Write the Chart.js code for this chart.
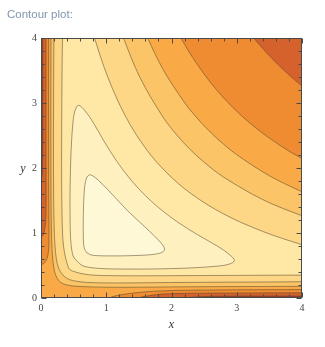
<!DOCTYPE html>
<html><head><meta charset="utf-8">
<script src="https://cdn.jsdelivr.net/npm/chart.js@4.4.0/dist/chart.umd.min.js"></script>
<style>html,body{margin:0;padding:0;background:#fff;}canvas{display:block;}</style>
</head><body>
<canvas id="c" width="325" height="347"></canvas>
<script>
// Contour levels (estimated function value on each contour line, innermost first)
const levels = [3.28, 3.78, 4.75, 6.1, 7.4, 9.3, 13.6, 38];
const tickValues = [0, 1, 2, 3, 4];
const tickLabels = ['0', '1', '2', '3', '4'];

// Contour 1 (closed loop)
const c1x = [0.70,0.665,0.652,0.648,0.648,0.652,0.66,0.675,0.70,0.74,0.80,0.88,1.03,1.17,1.335,1.51,1.66,1.81,1.875,1.893,1.85,1.75,1.6,1.4,1.2,1.0,0.85,0.76,0.70];
const c1y = [0.70,0.76,0.85,1.0,1.2,1.4,1.6,1.75,1.85,1.893,1.875,1.81,1.66,1.51,1.335,1.17,1.03,0.88,0.80,0.74,0.70,0.675,0.66,0.652,0.648,0.648,0.652,0.665,0.70];
// Contour 2 (closed loop)
const c2x = [0.56,0.50,0.47,0.455,0.447,0.445,0.445,0.448,0.455,0.468,0.49,0.52,0.575,0.675,0.80,0.973,1.164,1.392,1.587,1.8,2.1,2.4,2.7,2.88,2.965,2.88,2.7,2.4,2.1,1.8,1.6,1.35,1.1,0.9,0.75,0.63,0.56];
const c2y = [0.56,0.63,0.75,0.9,1.1,1.35,1.6,1.8,2.1,2.4,2.7,2.88,2.965,2.88,2.7,2.4,2.1,1.8,1.587,1.392,1.164,0.973,0.80,0.675,0.575,0.52,0.49,0.468,0.455,0.448,0.445,0.445,0.447,0.455,0.47,0.50,0.56];
// Contour 3 (upper-right branch + branch near the axes)
const c3x = [4.3,4.0,3.4,2.8,2.3,1.927,1.605,1.2926,1.0231,0.820,0.7335,0.335,0.33,0.322,0.318,0.316,0.316,0.318,0.322,0.33,0.345,0.37,0.40,0.44,0.53,0.65,0.8,1.0,1.3,1.6,1.9,2.3,2.8,3.4,4.0,4.3,4.3];
const c3y = [0.7335,0.820,1.0231,1.2926,1.605,1.927,2.3,2.8,3.4,4.0,4.3,4.3,4.0,3.4,2.8,2.3,1.9,1.6,1.3,1.0,0.8,0.65,0.53,0.44,0.40,0.37,0.352,0.345,0.342,0.342,0.343,0.345,0.347,0.35,0.352,0.353,0.7335];
// Contour 4
const c4x = [4.3,4.0,3.4,2.8,2.5,2.2855,2.0885,1.859,1.5132,1.2649,1.1649,0.1996,0.1977,0.1944,0.1921,0.1914,0.1923,0.1956,0.2043,0.215,0.235,0.27,0.33,0.40,0.5,0.7,1.0,1.4,2.0,2.8,3.4,4.0,4.3,4.3];
const c4y = [1.1649,1.2649,1.5132,1.859,2.0885,2.2855,2.5,2.8,3.4,4.0,4.3,4.3,4.0,3.4,2.8,2.2855,1.8,1.4,1.0,0.8,0.6,0.46,0.36,0.30,0.265,0.24,0.232,0.232,0.238,0.243,0.246,0.25,0.251,1.1649];
// Contour 5
const c5x = [4.3,4.0,3.5,3.0,2.8,2.5733,2.3643,2.2044,1.8807,1.6346,1.5132,0.1537,0.153,0.1519,0.1512,0.151,0.1516,0.1538,0.1603,0.17,0.185,0.21,0.25,0.3,0.4,0.55,0.8,1.2,1.7,2.2,3.0,4.0,4.3,4.3];
const c5y = [1.5132,1.6346,1.8807,2.2044,2.3643,2.5733,2.8,3.0,3.5,4.0,4.3,4.3,4.0,3.5,3.0,2.5733,2.0,1.5,1.0,0.75,0.55,0.4,0.3,0.24,0.2,0.18,0.17,0.165,0.168,0.172,0.176,0.18,0.181,1.5132];
// Contour 6 (leaves through the left and bottom edges near the origin)
const c6x = [4.3,4.0,3.7,3.3,2.936,2.6103,2.3242,2.146,1.992,0.1167,0.1165,0.1161,0.1162,0.1172,0.1202,0.122,0.115,0.09,0.04,-0.1,-0.4,-0.4,0.9,0.97,1.05,1.2,1.45,1.67,2.0,2.5,3.0,4.0,4.3,4.3];
const c6y = [1.992,2.146,2.3242,2.6103,2.936,3.3,3.7,4.0,4.3,4.3,4.0,3.3,2.4,1.8,1.2,0.9,0.72,0.6,0.53,0.48,0.45,-0.4,-0.4,-0.08,0.0,0.045,0.08,0.1,0.115,0.122,0.126,0.13,0.131,1.992];
// Contour 7
const c7x = [4.3,4.0,3.8,3.612,3.433,3.2608,3.032,0.0767,0.0767,0.0767,0.0773,0.078,0.07,0.05,0.02,-0.1,-0.4,-0.4,1.35,1.42,1.5,1.65,1.85,2.2,3.0,4.0,4.3,4.3];
const c7y = [3.032,3.2608,3.433,3.612,3.8,4.0,4.3,4.3,4.0,3.0,2.0,1.4,1.15,1.02,0.95,0.9,0.88,-0.4,-0.4,-0.08,0.0,0.035,0.06,0.072,0.077,0.08,0.08,3.032];
// Contour 8 (only the branch near the axes)
const c8x = [4.3,0.0265,0.0265,0.027,0.024,0.012,-0.05,-0.4,-0.4,2.0,2.12,2.25,2.45,2.7,3.2,4.0,4.3,4.3];
const c8y = [4.3,4.3,4.0,2.6,2.1,1.85,1.7,1.65,-0.4,-0.4,-0.08,0.0,0.02,0.028,0.031,0.032,0.032,4.3];

const contoursX = [c1x, c2x, c3x, c4x, c5x, c6x, c7x, c8x];
const contoursY = [c1y, c2y, c3y, c4y, c5y, c6y, c7y, c8y];

// styles
const bandColors = ['#FFF8D6','#FFF0C0','#FFE7A5','#FDD686','#FBC466','#F9A945','#EF8B31','#D5612D'];
const topBandColor = '#A83A22';
const lineColor = 'rgba(90,75,45,0.55)';

const datasets = contoursX.map((xs, k) => ({
  label: 'level ' + levels[k],
  data: xs.map((x, i) => ({x: x, y: contoursY[k][i]})),
  fill: 'shape',
  backgroundColor: bandColors[k],
  borderColor: lineColor,
  borderWidth: 1,
  pointRadius: 0,
  tension: 0.35,
  capBezierPoints: false,
  clip: 0
}));

const bgPlugin = {
  id: 'bg',
  beforeDatasetsDraw(chart) {
    const {ctx, chartArea: a} = chart;
    ctx.save();
    ctx.fillStyle = topBandColor;
    ctx.fillRect(a.left, a.top, a.right - a.left, a.bottom - a.top);
    ctx.restore();
  }
};

const framePlugin = {
  id: 'frame',
  afterDatasetsDraw(chart) {
    const {ctx, chartArea: a, scales} = chart;
    const xs = scales.x, ys = scales.y;
    ctx.save();
    ctx.strokeStyle = '#4a4a4a';
    ctx.lineWidth = 1;
    const L = Math.round(a.left) + 0.5, R = Math.round(a.right) - 0.5;
    const T = Math.round(a.top) + 0.5, B = Math.round(a.bottom) - 0.5;
    ctx.beginPath();
    ctx.rect(L, T, R - L, B - T);
    ctx.stroke();
    ctx.beginPath();
    for (let i = 0; i <= 20; i++) {
      const v = i / 5;
      const len = (i % 5 === 0) ? 5 : 3;
      const px = Math.round(xs.getPixelForValue(v)) + 0.5;
      const py = Math.round(ys.getPixelForValue(v)) + 0.5;
      ctx.moveTo(px, B); ctx.lineTo(px, B - len);
      ctx.moveTo(px, T); ctx.lineTo(px, T + len);
      ctx.moveTo(L, py); ctx.lineTo(L + len, py);
      ctx.moveTo(R, py); ctx.lineTo(R - len, py);
    }
    ctx.stroke();
    // y axis label (horizontal, as in the reference)
    ctx.fillStyle = '#333';
    ctx.font = 'italic 12px "Liberation Serif"';
    ctx.textAlign = 'center';
    ctx.textBaseline = 'middle';
    ctx.fillText('y', 23, (a.top + a.bottom) / 2 + 1);
    ctx.restore();
  }
};

const tickFont = {family: 'Liberation Serif', size: 10};

new Chart(document.getElementById('c'), {
  type: 'line',
  data: {datasets},
  options: {
    responsive: false,
    animation: false,
    devicePixelRatio: 1,
    events: [],
    layout: {padding: {left: 7, right: 23, top: 0, bottom: 0}},
    plugins: {
      legend: {display: false},
      tooltip: {enabled: false},
      title: {
        display: true, text: 'Contour plot:', align: 'start', color: '#8196AE',
        font: {family: 'Liberation Sans', size: 11.5, weight: 'normal'},
        padding: {top: 8, bottom: 16.2}
      }
    },
    scales: {
      x: {
        type: 'linear', min: 0, max: 4, position: 'bottom',
        afterFit(s) { s.height = 49; },
        afterBuildTicks(s) { s.ticks = tickValues.map(v => ({value: v})); },
        ticks: {callback: v => tickLabels[tickValues.indexOf(v)], font: tickFont, color: '#444', padding: 4, maxRotation: 0, autoSkip: false},
        grid: {display: false, drawTicks: false},
        border: {display: false},
        title: {display: true, text: 'x', color: '#333', font: {family: 'Liberation Serif', size: 12, style: 'italic'}, padding: {top: 0, bottom: 15}}
      },
      y: {
        type: 'linear', min: 0, max: 4, position: 'left',
        afterFit(s) { s.width = 34; },
        afterBuildTicks(s) { s.ticks = tickValues.map(v => ({value: v})); },
        ticks: {callback: v => tickLabels[tickValues.indexOf(v)], font: tickFont, color: '#444', padding: 4, autoSkip: false},
        grid: {display: false, drawTicks: false},
        border: {display: false}
      }
    }
  },
  plugins: [bgPlugin, framePlugin]
});
</script>
</body></html>
